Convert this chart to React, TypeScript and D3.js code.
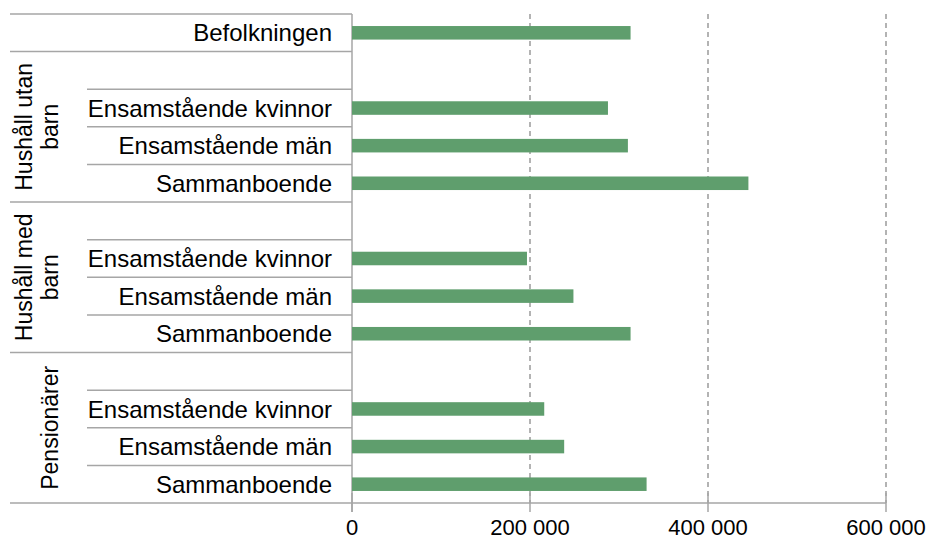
import * as d3 from "d3";

const totalLabel = "Befolkningen";
const totalValue = 313000;
const groupNames = [["Hushåll utan", "barn"], ["Hushåll med", "barn"], ["Pensionärer"]];
const subCategories = ["Ensamstående kvinnor", "Ensamstående män", "Sammanboende"];
const utanBarn = [287600, 310000, 445400];
const medBarn = [196600, 248800, 313000];
const pensionarer = [216000, 238400, 331000];
const xTicks = [0, 200000, 400000, 600000];

const groupValues = [utanBarn, medBarn, pensionarer];

type Row = { key: string; label: string; value: number | null; group: number };

export default function App() {
    const width = 930;
    const height = 540;
    const left = 352;
    const right = 886;
    const top = 14;
    const bottom = 503;
    const font = "'Liberation Sans', Arial, sans-serif";

    // build rows: total, then for each group one blank row + the sub categories
    const rows: Row[] = [{ key: "total", label: totalLabel, value: totalValue, group: -1 }];
    groupValues.forEach((vals, gi) => {
        rows.push({ key: `g${gi}-blank`, label: "", value: null, group: gi });
        subCategories.forEach((c, ci) => {
            rows.push({ key: `g${gi}-${ci}`, label: c, value: vals[ci], group: gi });
        });
    });

    const x = d3.scaleLinear().domain([0, 600000]).range([left, right]);
    const y = d3.scaleBand<string>().domain(rows.map((r) => r.key)).range([top, bottom]).padding(0);
    const bw = y.bandwidth();
    const barH = bw * 0.36;
    const fmt = (v: number) => d3.format(",")(v).replace(/,/g, " ");

    const lineColor = "#a6a6a6";

    return (
        <svg width={width} height={height} style={{ position: "absolute", left: 0, top: 0 }}>
            <rect width={width} height={height} fill="#fff" />
            {/* gridlines */}
            {xTicks.slice(1).map((t) => (
                <line key={`g${t}`} x1={x(t)} x2={x(t)} y1={top} y2={bottom} stroke="#9a9a9a" strokeWidth={1.5} strokeDasharray="5 4" />
            ))}
            {/* row separators */}
            {rows.map((r, i) => {
                const yy = y(r.key)!;
                const groupStart = i === 0 || r.label === "";
                return (
                    <line key={`s${r.key}`} x1={groupStart ? 10 : 87} x2={left} y1={yy} y2={yy} stroke={lineColor} strokeWidth={1.5} />
                );
            })}
            <line x1={10} x2={right} y1={bottom} y2={bottom} stroke={lineColor} strokeWidth={1.5} />
            <line x1={left} x2={left} y1={top} y2={bottom + 9} stroke={lineColor} strokeWidth={1.5} />
            {xTicks.map((t) => (
                <line key={`t${t}`} x1={x(t)} x2={x(t)} y1={bottom - 10} y2={bottom + 9} stroke={lineColor} strokeWidth={1.5} />
            ))}
            {/* bars */}
            {rows.filter((r) => r.value !== null).map((r) => (
                <rect key={`b${r.key}`} x={x(0)} y={y(r.key)! + (bw - barH) / 2} width={x(r.value!) - x(0)} height={barH} fill="#5f9e6d" />
            ))}
            {/* category labels */}
            {rows.filter((r) => r.label !== "").map((r) => (
                <text key={`l${r.key}`} x={332} y={y(r.key)! + bw / 2} dy="0.36em" textAnchor="end" fontFamily={font} fontSize={24} fill="#000">
                    {r.label}
                </text>
            ))}
            {/* group labels */}
            {groupNames.map((lines, gi) => {
                const first = rows.findIndex((r) => r.group === gi);
                const y0 = y(rows[first].key)!;
                const y1 = y(rows[first + subCategories.length].key)! + bw;
                const cy = (y0 + y1) / 2;
                return lines.map((ln, li) => {
                    const bx = 58 - (lines.length - 1 - li) * 26;
                    return (
                        <text key={`gl${gi}-${li}`} transform={`translate(${bx},${cy}) rotate(-90)`} textAnchor="middle" fontFamily={font} fontSize={23} fill="#000">
                            {ln}
                        </text>
                    );
                });
            })}
            {/* x tick labels */}
            {xTicks.map((t) => (
                <text key={`xl${t}`} x={x(t)} y={535} textAnchor="middle" fontFamily={font} fontSize={22} fill="#000">
                    {fmt(t)}
                </text>
            ))}
        </svg>
    );
}
